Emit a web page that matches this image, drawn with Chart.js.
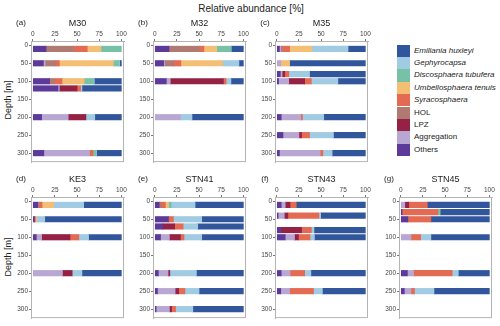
<!DOCTYPE html>
<html lang="en">

<head>
    <meta charset="UTF-8">
    <title>Relative abundance</title>
    <script src="https://cdn.jsdelivr.net/npm/chart.js"></script>
    <style>
        body {
            margin: 0;
            background: #fff;
            font-family: "Liberation Sans", Arial, sans-serif;
            color: #222;
        }

        .page {
            position: relative;
            width: 500px;
            height: 326px;
            overflow: hidden;
        }

        .page canvas {
            position: absolute;
        }

        .txt {
            position: absolute;
            white-space: nowrap;
            transform: translate(-50%, -50%);
        }

        .main-title {
            font-size: 10px;
        }

        .panel-title {
            font-size: 9px;
        }

        .panel-tag {
            font-size: 8px;
        }

        .depth-label {
            font-size: 9px;
            transform: translate(-50%, -50%) rotate(-90deg);
        }

        .legend-row {
            position: absolute;
            left: 397px;
            height: 12.4px;
            font-size: 8px;
            line-height: 12.4px;
        }

        .legend-row span {
            display: inline-block;
            width: 13px;
            height: 12.4px;
            vertical-align: top;
            margin-right: 4px;
        }
    </style>
</head>

<body>
    <div class="page" id="page">
        <div class="txt main-title" style="left:251px; top:8px;">Relative abundance [%]</div>
        <div class="txt depth-label" style="left:8px; top:100px;">Depth [m]</div>
        <div class="txt depth-label" style="left:8px; top:257px;">Depth [m]</div>
        <div id="legenda"></div>
    </div>

    <script>
        // legend order (top to bottom)
        const speciesNames = ['Emiliania huxleyi', 'Gephyrocapsa', 'Discosphaera tubufera', 'Umbellosphaera tenuis',
            'Syracosphaera', 'HOL', 'LPZ', 'Aggregation', 'Others'];
        const speciesColors = ['#31569b', '#a0cbe3', '#77c1a6', '#f4bf75', '#e36a53', '#b07a72', '#952144', '#b8a7d3', '#5b3a9a'];
        const italicNames = [true, true, true, true, true, false, false, false, false];

        const xTicks = [0, 25, 50, 75, 100];
        const depthTicks = [0, 50, 100, 150, 200, 250, 300];

        // each row: Others, Aggregation, LPZ, HOL, Syracosphaera, Umbellosphaera, Discosphaera, Gephyrocapsa, Emiliania
        const m30Depths = [10, 50, 100, 120, 200, 300];
        const m30Values = [
            [15, 0, 0, 31, 15.5, 15.5, 23, 0, 0],
            [12, 2, 0, 12, 4, 61, 6, 1, 2],
            [19, 0, 0, 5, 9, 25, 10.5, 1, 30.5],
            [28.5, 1.5, 20, 0, 4, 0, 0, 1.5, 44.5],
            [10, 30, 20, 0, 0, 0, 0, 10, 30],
            [12.5, 51.5, 0, 0, 4, 0, 3.5, 0.5, 28]
        ];

        const m32Depths = [10, 50, 100, 200];
        const m32Values = [
            [16, 0, 0, 34.5, 5, 14.5, 16.5, 0, 13.5],
            [10, 1, 0, 10.5, 8, 47, 0, 18.5, 5],
            [13, 4.5, 60, 0, 3, 0, 0, 5.5, 14],
            [0, 29, 0, 0, 0, 0, 0, 13, 58]
        ];

        const m35Depths = [10, 50, 80, 100, 200, 250, 300];
        const m35Values = [
            [3, 1.5, 0, 2, 8, 25, 0, 41, 19.5],
            [0, 4.5, 0, 0, 0, 10, 0, 0, 85.5],
            [4, 2, 3, 0, 4.5, 0, 0, 23.5, 63],
            [2, 11.5, 18, 0, 7.5, 0, 0, 30, 31],
            [5, 22, 0, 0, 2, 0, 0, 24, 47],
            [7, 18, 3, 0, 9, 0, 0, 27, 36],
            [3, 46, 0, 0, 3, 0, 0, 10.5, 37.5]
        ];

        const ke3Depths = [10, 50, 100, 200];
        const ke3Values = [
            [5.5, 0, 0, 2, 3, 13, 0, 34, 42.5],
            [2, 0, 0, 0, 1, 1.5, 0, 9, 86.5],
            [4, 6, 32, 0, 10, 0, 0, 11, 37],
            [0, 33.5, 11, 0, 0, 0, 0, 11, 44.5]
        ];

        const stn41Depths = [10, 50, 70, 100, 200, 250, 300];
        const stn41Values = [
            [5, 0, 0, 2, 5, 3.5, 3, 27, 54.5],
            [15.5, 0, 0, 0, 5.5, 0, 0, 32, 47],
            [9, 0, 13.5, 0, 9.5, 0, 0, 16.5, 51.5],
            [6.5, 10, 12.5, 0, 4, 0, 0, 20, 47],
            [4, 11, 2, 0, 0, 0, 0, 30, 53],
            [3, 20, 4, 0, 7, 0, 0, 16, 50],
            [1.5, 15, 2.5, 0, 4.5, 0, 0, 19.5, 57]
        ];

        const stn43Depths = [10, 40, 80, 100, 200, 250];
        const stn43Values = [
            [5, 4.5, 5.5, 0, 7, 0, 0, 0, 78],
            [1.5, 7, 4, 0, 35, 0, 0, 2, 50.5],
            [4.5, 0, 23.5, 0, 11, 0, 0, 3, 58],
            [9.5, 10.5, 4.5, 0, 13, 0, 0, 5, 57.5],
            [5, 10, 0, 0, 16.5, 0, 0, 7, 61.5],
            [4.5, 10, 0, 0, 27, 0, 0, 10, 48.5]
        ];

        const stn45Depths = [10, 30, 50, 100, 200, 250];
        const stn45Values = [
            [0, 4.5, 4.5, 0, 21, 0, 0, 0, 70],
            [1.5, 0, 0, 0, 40.5, 0, 2.5, 0, 55.5],
            [8, 0, 0, 0, 26, 0, 0, 0, 66],
            [0, 11.5, 0, 0, 11, 0, 0, 11.5, 66],
            [7.5, 7, 0, 0, 43.5, 0, 0, 7, 35],
            [4, 7.5, 0, 0, 4, 0, 0, 22, 62.5]
        ];

        const fonte = "'Liberation Sans', Arial, sans-serif";
        const page = document.getElementById('page');

        // light grey box around each panel
        const frame = {
            id: 'frame',
            afterDraw(chart) {
                const a = chart.chartArea;
                const ctx = chart.ctx;
                ctx.save();
                ctx.strokeStyle = '#b4b4b4';
                ctx.lineWidth = 1;
                ctx.strokeRect(a.left + 0.5, a.top + 0.5, a.right - a.left - 1, a.bottom - a.top - 1);
                ctx.restore();
            }
        };

        function criarPainel(tag, titulo, depths, valores, left, top) {
            const w = 93, h = 123;
            const canvas = document.createElement('canvas');
            canvas.width = 26 + w + 8;
            canvas.height = 14 + h + 3;
            canvas.style.left = (left - 26) + 'px';
            canvas.style.top = (top - 14) + 'px';
            page.appendChild(canvas);

            const t1 = document.createElement('div');
            t1.className = 'txt panel-title';
            t1.style.left = (left + w / 2) + 'px';
            t1.style.top = (top - 18) + 'px';
            t1.textContent = titulo;
            page.appendChild(t1);

            const t2 = document.createElement('div');
            t2.className = 'txt panel-tag';
            t2.style.left = (left - 10) + 'px';
            t2.style.top = (top - 19) + 'px';
            t2.textContent = tag;
            page.appendChild(t2);

            // running sums -> floating bars, Others at the left ... Emiliania at the right
            const inicio = depths.map(() => 0);
            const datasets = [];
            for (let k = 0; k < 9; k++) {
                const sp = 8 - k;
                const data = [];
                depths.forEach((d, i) => {
                    const v = valores[i][k];
                    if (v > 0) data.push({ x: [inicio[i], inicio[i] + v], y: d });
                    inicio[i] += v;
                });
                datasets.push({
                    label: speciesNames[sp],
                    data,
                    backgroundColor: speciesColors[sp],
                    borderWidth: 0,
                    borderSkipped: false,
                    barThickness: 5.5,
                    grouped: false
                });
            }

            new Chart(canvas.getContext('2d'), {
                type: 'bar',
                data: { datasets },
                options: {
                    indexAxis: 'y',
                    responsive: false,
                    animation: false,
                    layout: { padding: { left: 0, top: 0, right: 8, bottom: 3 } },
                    plugins: {
                        legend: { display: false },
                        tooltip: { enabled: false }
                    },
                    scales: {
                        x: {
                            type: 'linear',
                            position: 'top',
                            min: -2,
                            max: 103,
                            afterFit: s => { s.height = 14; },
                            afterBuildTicks: s => { s.ticks = xTicks.map(v => ({ value: v })); },
                            ticks: { font: { size: 6.5, family: fonte }, color: '#444', padding: 1, maxRotation: 0 },
                            grid: { drawOnChartArea: false, tickLength: 2, color: '#777' },
                            border: { color: '#b4b4b4' }
                        },
                        y: {
                            type: 'linear',
                            reverse: true,
                            offset: false,
                            min: -12,
                            max: 325,
                            afterFit: s => { s.width = 26; },
                            afterBuildTicks: s => { s.ticks = depthTicks.map(v => ({ value: v })); },
                            ticks: { font: { size: 6.5, family: fonte }, color: '#444', padding: 1 },
                            grid: { offset: false, drawOnChartArea: false, tickLength: 2, color: '#777' },
                            border: { color: '#b4b4b4' }
                        }
                    }
                },
                plugins: [frame]
            });
        }

        criarPainel('(a)', 'M30', m30Depths, m30Values, 31, 41);
        criarPainel('(b)', 'M32', m32Depths, m32Values, 153, 41);
        criarPainel('(c)', 'M35', m35Depths, m35Values, 275, 41);
        criarPainel('(d)', 'KE3', ke3Depths, ke3Values, 31, 197);
        criarPainel('(e)', 'STN41', stn41Depths, stn41Values, 153, 197);
        criarPainel('(f)', 'STN43', stn43Depths, stn43Values, 275, 197);
        criarPainel('(g)', 'STN45', stn45Depths, stn45Values, 399, 197);

        // legend
        const legenda = document.getElementById('legenda');
        speciesNames.forEach((nome, i) => {
            const row = document.createElement('div');
            row.className = 'legend-row';
            row.style.top = (44.5 + 12.4 * i) + 'px';
            row.innerHTML = '<span style="background:' + speciesColors[i] + '"></span>' +
                (italicNames[i] ? '<i>' + nome + '</i>' : nome);
            legenda.appendChild(row);
        });
    </script>
</body>

</html>
